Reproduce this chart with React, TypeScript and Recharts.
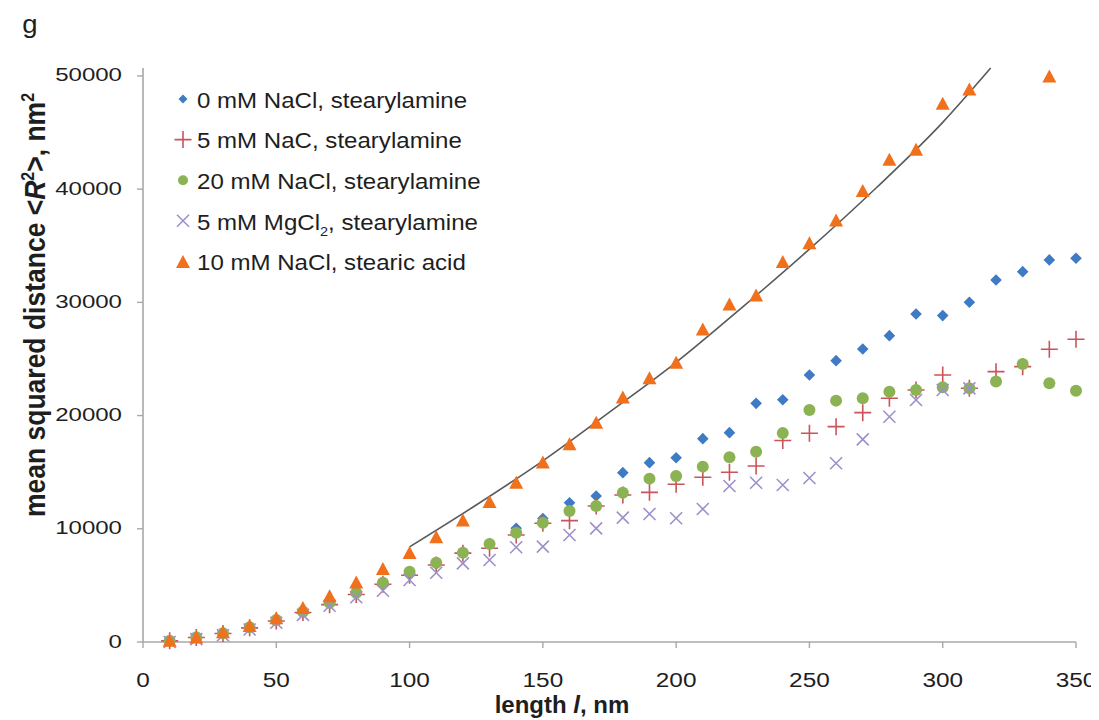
import React from 'react';
import { ComposedChart, Scatter, Line, XAxis, YAxis, Legend } from 'recharts';

// ---------- data ----------
const lengthNm = [10, 20, 30, 40, 50, 60, 70, 80, 90, 100, 110, 120, 130, 140, 150, 160, 170, 180, 190, 200, 210, 220, 230, 240, 250, 260, 270, 280, 290, 300, 310, 320, 330, 340, 350];

const naCl0Stearyl = [50, 350, 800, 1300, 1900, 2700, 3400, 4300, 5200, 6050, 6900, 7950, 8700, 10040, 10900, 12300, 12900, 14960, 15840, 16280, 17960, 18490, 21080, 21400, 23590, 24850, 25880, 27060, 28975, 28830, 30010, 31980, 32710, 33750, 33900];

const naC5Stearyl = [100, 400, 750, 1250, 1850, 2600, 3300, 4200, 5100, 5900, 6800, 7850, 8280, 9450, 10490, 10720, 12010, 12990, 13220, 13930, 14550, 14990, 15550, 17800, 18440, 19020, 20260, 21530, 22260, 23590, 22410, 23880, 24320, 25860, 26740];

const naCl20Stearyl = [110, 420, 770, 1300, 1940, 2680, 3470, 4360, 5240, 6210, 7000, 7890, 8660, 9660, 10540, 11570, 12010, 13190, 14430, 14660, 15490, 16310, 16810, 18450, 20490, 21320, 21530, 22110, 22260, 22500, 22410, 23000, 24560, 22850, 22200];

const mgCl5Stearyl: (number | null)[] = [0, 250, 600, 1100, 1700, 2400, 3200, 3950, 4530, 5480, 6120, 6950, 7240, 8370, 8420, 9450, 10040, 10980, 11310, 10930, 11750, 13780, 14070, 13870, 14490, 15790, 17900, 19900, 21380, 22260, 22400, null, null, null, null];

const naCl10Stearic: (number | null)[] = [150, 450, 900, 1450, 2150, 3050, 4080, 5300, 6500, 7900, 9300, 10780, 12400, 14100, 15900, 17500, 19400, 21650, 23350, 24700, 27650, 29850, 30650, 33600, 35270, 37280, 39870, 42640, 43520, 47590, 48850, null, null, 50000, null];

const fitLength = [100, 125, 150, 175, 200, 225, 250, 275, 300, 318];
const fitValue = [8400, 12100, 16000, 20300, 24700, 29600, 34700, 40100, 45900, 50700];

const xTicks = [0, 50, 100, 150, 200, 250, 300, 350];
const yTicks = [0, 10000, 20000, 30000, 40000, 50000];

const legendLabels = [
  '0 mM NaCl, stearylamine',
  '5 mM NaC, stearylamine',
  '20 mM NaCl, stearylamine',
  '5 mM MgCl2, stearylamine',
  '10 mM NaCl, stearic acid',
];

// ---------- styles ----------
const BLUE = '#3f7bc4';
const RED = '#c9545c';
const GREEN = '#8bb253';
const PURPLE = '#9e8fcc';
const ORANGE = '#f0701c';
const FIT = '#5a5a5a';
const AXIS = '#a8a8a8';
const TEXT = '#1e1e1e';
const FONT = "'Liberation Sans', Arial, sans-serif";

type P = { x: number; y: number };
const pts = (ys: (number | null)[]): P[] =>
  lengthNm.map((x, i) => ({ x, y: ys[i] as number })).filter((p) => p.y !== null && p.y !== undefined);

const fitData: P[] = fitLength.map((x, i) => ({ x, y: fitValue[i] }));

// ---------- marker shapes ----------
const diamond = (cx: number, cy: number, r = 5.8) => (
  <path d={`M${cx},${cy - r}L${cx + r},${cy}L${cx},${cy + r}L${cx - r},${cy}Z`} fill={BLUE} />
);
const plus = (cx: number, cy: number, r = 8.5) => (
  <path d={`M${cx - r},${cy}H${cx + r}M${cx},${cy - r}V${cy + r}`} stroke={RED} strokeWidth={1.6} fill="none" />
);
const circle = (cx: number, cy: number, r = 6) => <circle cx={cx} cy={cy} r={r} fill={GREEN} />;
const cross = (cx: number, cy: number, r = 6) => (
  <path d={`M${cx - r},${cy - r}L${cx + r},${cy + r}M${cx - r},${cy + r}L${cx + r},${cy - r}`} stroke={PURPLE} strokeWidth={1.6} fill="none" />
);
const triangle = (cx: number, cy: number, w = 14, h = 13) => (
  <path d={`M${cx},${cy - h / 2}L${cx + w / 2},${cy + h / 2}L${cx - w / 2},${cy + h / 2}Z`} fill={ORANGE} />
);

const markers = [diamond, plus, circle, cross, triangle];

const shapeOf = (fn: (cx: number, cy: number) => React.ReactElement) => (props: any) => {
  if (props.cx == null || props.cy == null) return <g />;
  return fn(props.cx, props.cy);
};

// ---------- ticks & titles ----------
const YTick = (props: any) => {
  const { x, y, payload } = props;
  return (
    <g transform={`translate(${x},${y})`}>
      <text transform="scale(1.3,1)" textAnchor="end" dy={5.5} fontSize={18.5} fill={TEXT} fontFamily={FONT}>
        {payload.value}
      </text>
    </g>
  );
};

const XTick = (props: any) => {
  const { x, y, payload } = props;
  return (
    <g transform={`translate(${x},${y})`}>
      <text transform="scale(1.25,1)" textAnchor="middle" dy={36.7} fontSize={19.5} fill={TEXT} fontFamily={FONT}>
        {payload.value}
      </text>
    </g>
  );
};

const YTitle = (props: any) => {
  const vb = props.viewBox || { x: 0, y: 60, width: 135, height: 574 };
  const cx = vb.x + 37;
  const cy = vb.y + vb.height / 2 - 50;
  return (
    <text
      transform={`translate(${cx},${cy}) rotate(-90) scale(1,1.12)`}
      textAnchor="middle"
      fontSize={26.5}
      fontWeight="bold"
      fill={TEXT}
      fontFamily={FONT}
    >
      mean squared distance &lt;<tspan fontStyle="italic">R</tspan>
      <tspan dy={-10} fontSize={16}>2</tspan>
      <tspan dy={10}>&gt;, nm</tspan>
      <tspan dy={-10} fontSize={16}>2</tspan>
    </text>
  );
};

const XTitle = (props: any) => {
  const vb = props.viewBox || { x: 135, y: 634, width: 933, height: 78 };
  const cx = 554;
  const cy = vb.y + 71;
  return (
    <text x={cx} y={cy} textAnchor="middle" fontSize={24} fontWeight="bold" fill={TEXT} fontFamily={FONT}>
      length <tspan fontStyle="italic">l</tspan>, nm
    </text>
  );
};

const LegendBox = () => (
  <svg width={400} height={220} style={{ display: 'block' }}>
    {legendLabels.map((label, i) => {
      const my = 21 + 40.6 * i;
      const by = 29.7 + 40.6 * i;
      const isMg = label.startsWith('5 mM MgCl2');
      return (
        <g key={label}>
          {i === 0 ? diamond(15, my, 4.5) : i === 2 ? circle(15, my, 5) : markers[i](15, my)}
          <text transform={`translate(29,${by}) scale(1.12,1)`} fontSize={21.5} fill={TEXT} fontFamily={FONT}>
            {isMg ? (
              <>
                5 mM MgCl<tspan dy={6} fontSize={13}>2</tspan>
                <tspan dy={-6}>, stearylamine</tspan>
              </>
            ) : (
              label
            )}
          </text>
        </g>
      );
    })}
  </svg>
);

const W = 1091;
const H = 712;

export default function App() {
  return (
    <div style={{ position: 'relative', width: W, height: H }}>
      <ComposedChart width={W} height={H} margin={{ top: 60, right: 23, bottom: 0, left: 0 }}>
        <XAxis
          type="number"
          dataKey="x"
          domain={[0, 350]}
          ticks={xTicks}
          height={78}
          tickSize={6}
          tickMargin={2}
          allowDuplicatedCategory={false}
          axisLine={{ stroke: AXIS, strokeWidth: 1.6 }}
          tickLine={{ stroke: AXIS, strokeWidth: 1.4 }}
          tick={(p: any) => <XTick {...p} />}
          label={{ content: (p: any) => <XTitle {...p} /> }}
        />
        <YAxis
          type="number"
          dataKey="y"
          domain={[0, 50700]}
          ticks={yTicks}
          width={135}
          tickSize={6}
          tickMargin={15}
          axisLine={{ stroke: AXIS, strokeWidth: 1.6 }}
          tickLine={{ stroke: AXIS, strokeWidth: 1.4 }}
          tick={(p: any) => <YTick {...p} />}
          label={{ content: (p: any) => <YTitle {...p} /> }}
        />
        <Legend
          layout="vertical"
          align="center"
          verticalAlign="middle"
          wrapperStyle={{ left: 160, top: 70, width: 400, height: 220 }}
          content={() => <LegendBox />}
        />
        <Scatter name={legendLabels[0]} data={pts(naCl0Stearyl)} dataKey="y" shape={shapeOf((x, y) => diamond(x, y))} isAnimationActive={false} />
        <Scatter name={legendLabels[1]} data={pts(naC5Stearyl)} dataKey="y" shape={shapeOf((x, y) => plus(x, y))} isAnimationActive={false} />
        <Scatter name={legendLabels[2]} data={pts(naCl20Stearyl)} dataKey="y" shape={shapeOf((x, y) => circle(x, y))} isAnimationActive={false} />
        <Scatter name={legendLabels[3]} data={pts(mgCl5Stearyl)} dataKey="y" shape={shapeOf((x, y) => cross(x, y))} isAnimationActive={false} />
        <Scatter name={legendLabels[4]} data={pts(naCl10Stearic)} dataKey="y" shape={shapeOf((x, y) => triangle(x, y))} isAnimationActive={false} />
        <Line
          name="fit"
          legendType="none"
          data={fitData}
          dataKey="y"
          type="monotone"
          stroke={FIT}
          strokeWidth={1.6}
          dot={false}
          activeDot={false}
          isAnimationActive={false}
        />
      </ComposedChart>
      <svg width={60} height={50} style={{ position: 'absolute', left: 0, top: 0, pointerEvents: 'none' }}>
        <text x={13} y={25} fontSize={25} fill={TEXT} fontFamily={FONT} transform="scale(1.1,1)">
          g
        </text>
      </svg>
    </div>
  );
}
